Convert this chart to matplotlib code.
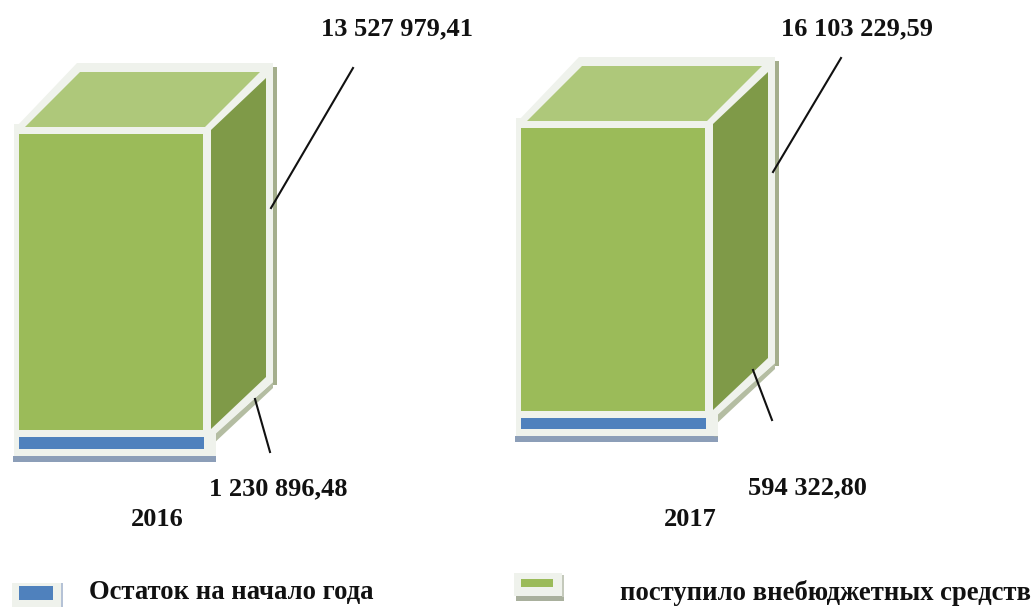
"""
Two stacked 3D-looking boxes, extra-budgetary funds 2016 and 2017.
"""
import matplotlib
matplotlib.use("Agg")
import matplotlib.pyplot as plt
from matplotlib.patches import Polygon, Rectangle

years = ["2016", "2017"]
green_labels = ["13 527 979,41", "16 103 229,59"]
blue_labels = ["1 230 896,48", "594 322,80"]
# segment heights as drawn in the picture (not to the scale of the labels)
green_heights = [296, 283]
blue_heights = [12, 11]
legend_names = ["Остаток на начало года", "поступило внебюджетных средств"]

BLUE = "#4f81bd"
GREEN = "#9bbb59"
GREEN_TOP = "#aec87a"
GREEN_SIDE = "#7f9a48"
FRAME = "#eff2ec"
SHADOW = "#8c9eb8"
STRIP = "#a4ae8c"
BAND_SHADOW = "#b4bda2"

plt.rcParams["font.family"] = ["Liberation Serif", "DejaVu Serif"]
plt.rcParams["font.weight"] = "bold"

fig = plt.figure(figsize=(10.34, 6.07), dpi=100)
ax = fig.add_axes([0, 0, 1, 1])
ax.set_xlim(0, 1034)
ax.set_ylim(607, 0)
ax.axis("off")


def draw_box(x0, base, green_h, blue_h):
    # x0 = left of coloured front, base = bottom of the blue segment
    w = 185
    blue_top = base - blue_h
    green_bot = blue_top - 7
    green_top = green_bot - green_h

    # shadows under the frame
    ax.add_patch(Rectangle((x0 - 6, base + 7), 203, 6, fc=SHADOW, ec="none", zorder=1))
    ax.add_patch(Polygon([(x0 + w + 8, green_bot + 6), (x0 + w + 69, green_bot - 48),
                          (x0 + w + 69, green_bot - 42), (x0 + w + 8, green_bot + 15)],
                         fc=BAND_SHADOW, ec="none", zorder=1))
    ax.add_patch(Rectangle((x0 + w + 8, green_bot + 7), 4, 19, fc="#9aa6a8", ec="none", zorder=1))

    # white frame: front, top and side
    ax.add_patch(Rectangle((x0 - 5, green_top - 10), 202, green_h + blue_h + 24, fc=FRAME, ec="none", zorder=2))
    ax.add_patch(Polygon([(x0 + w + 7, green_top - 10), (x0 + w + 69, green_top - 67),
                          (x0 + w + 69, green_bot - 48), (x0 + w + 7, green_bot + 8)],
                         fc=FRAME, ec="none", zorder=1))
    ax.add_patch(Polygon([(x0 - 2, green_top - 8), (x0 + 58, green_top - 71),
                          (x0 + w + 69, green_top - 71), (x0 + w + 69, green_top - 60),
                          (x0 + w + 12, green_top - 8)],
                         fc=FRAME, ec="none", zorder=1))
    ax.add_patch(Rectangle((x0 + w + 69, green_top - 67), 3.5, green_h + 22, fc=STRIP, ec="none", zorder=2))

    # coloured faces
    ax.add_patch(Rectangle((x0, green_top), w - 1, green_h, fc=GREEN, ec="none", zorder=3))
    ax.add_patch(Rectangle((x0, blue_top), w, blue_h, fc=BLUE, ec="none", zorder=3))
    ax.add_patch(Polygon([(x0 + 6, green_top - 7), (x0 + 61, green_top - 62),
                          (x0 + 241, green_top - 62), (x0 + 186, green_top - 7)],
                         fc=GREEN_TOP, ec="none", zorder=3))
    ax.add_patch(Polygon([(x0 + w + 7, green_top - 4), (x0 + w + 62, green_top - 56),
                          (x0 + w + 62, green_bot - 53), (x0 + w + 7, green_bot - 1)],
                         fc=GREEN_SIDE, ec="none", zorder=3))


draw_box(19, 449, green_heights[0], blue_heights[0])
draw_box(521, 429, green_heights[1], blue_heights[1])

# leader lines
ax.plot([353, 271], [68, 208], color="#111111", lw=1.5, zorder=5)
ax.plot([841, 773], [58, 172], color="#111111", lw=1.5, zorder=5)
ax.plot([255, 270], [399, 452], color="#111111", lw=1.5, zorder=5)
ax.plot([753, 772], [370, 420], color="#111111", lw=1.5, zorder=5)

fs = 19
ax.text(321, 29, green_labels[0], fontsize=fs, ha="left", va="center", color="#111111")
ax.text(781, 29, green_labels[1], fontsize=fs, ha="left", va="center", color="#111111")
ax.text(209, 489, blue_labels[0], fontsize=fs, ha="left", va="center", color="#111111")
ax.text(748, 488, blue_labels[1], fontsize=fs, ha="left", va="center", color="#111111")
ax.text(131, 520, years[0], fontsize=fs, ha="left", va="center", color="#111111")
ax.text(664, 520, years[1], fontsize=fs, ha="left", va="center", color="#111111")

# legend
ax.add_patch(Rectangle((12, 583), 49, 24, fc=FRAME, ec="none", zorder=1))
ax.add_patch(Rectangle((61, 583), 2, 24, fc="#b5c2d6", ec="none", zorder=1))
ax.add_patch(Rectangle((19, 586), 34, 14, fc=BLUE, ec="none", zorder=2))
ax.add_patch(Rectangle((514, 573), 48, 23, fc=FRAME, ec="none", zorder=1))
ax.add_patch(Rectangle((516, 596), 48, 5, fc="#a9b09d", ec="none", zorder=1))
ax.add_patch(Rectangle((562, 575), 2, 22, fc="#c4c9bb", ec="none", zorder=1))
ax.add_patch(Rectangle((521, 579), 32, 8, fc=GREEN, ec="none", zorder=2))
ax.text(89, 593, legend_names[0], fontsize=19.2, ha="left", va="center", color="#111111")
ax.text(620, 593, legend_names[1], fontsize=19.2, ha="left", va="center", color="#111111")

plt.savefig("out.png", dpi=100)
